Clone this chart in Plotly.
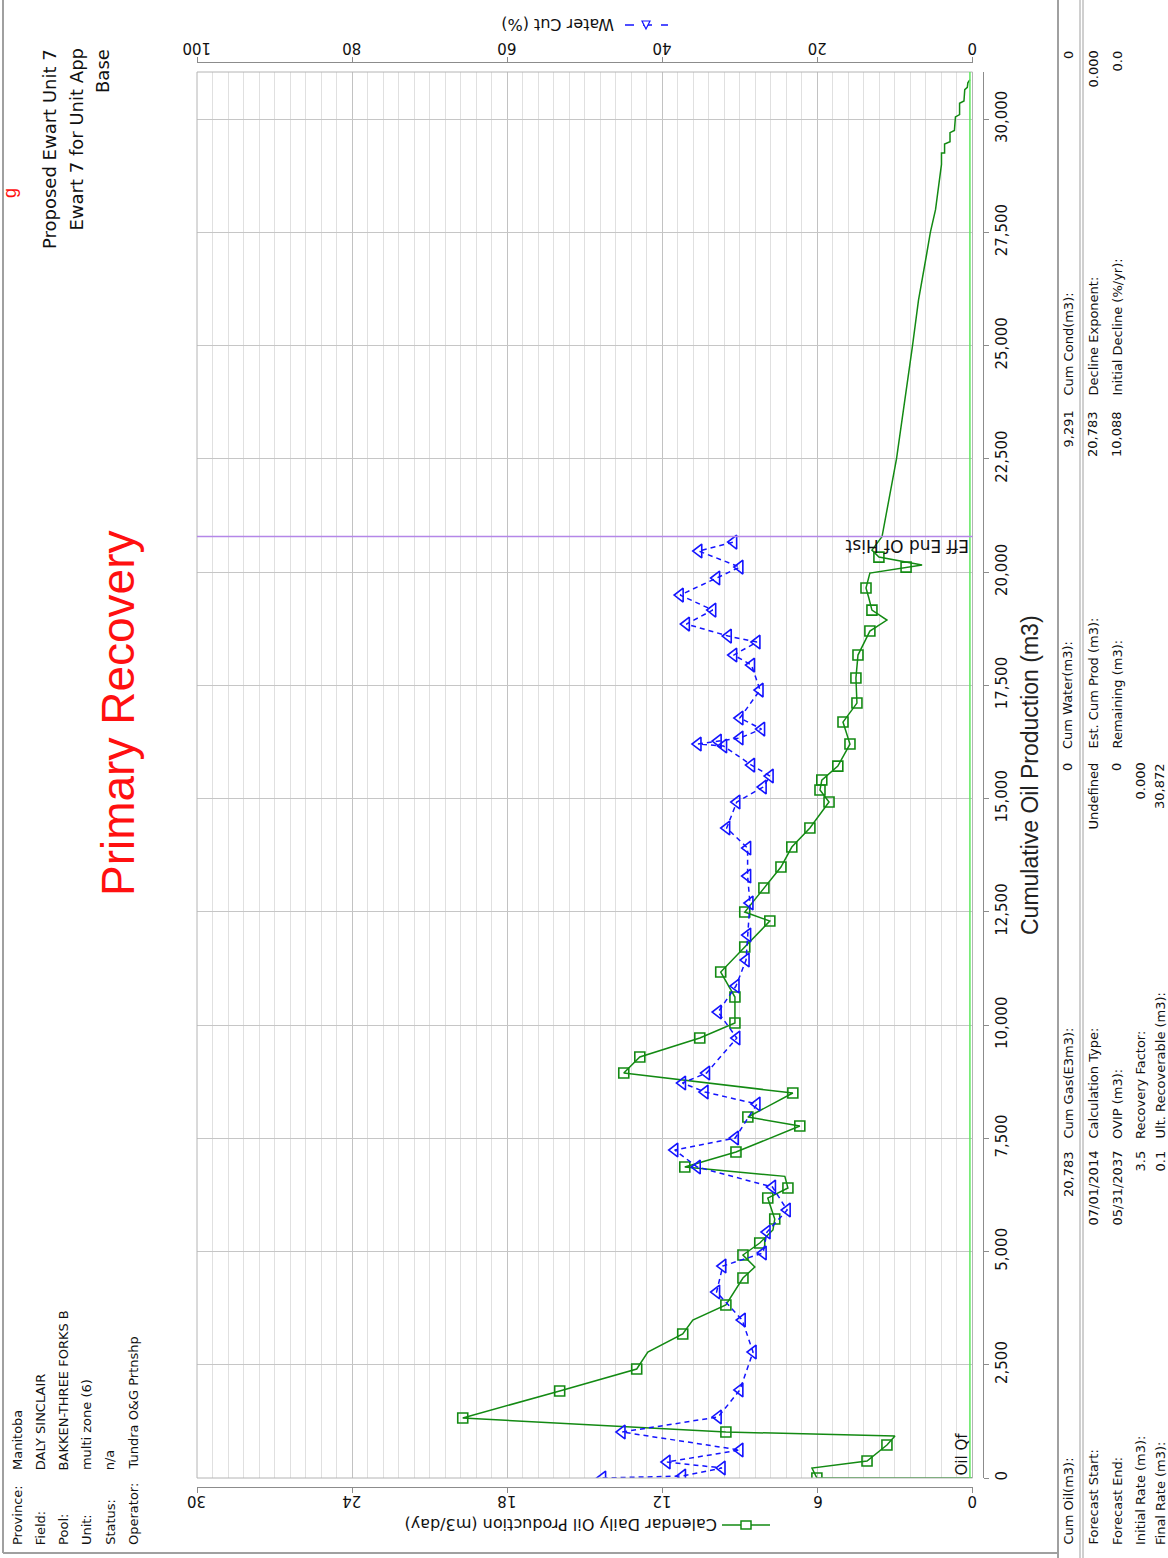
import plotly.graph_objects as go

W, H = 1168, 1558
SANS = "Liberation Sans"
UI = "DejaVu Sans"


def fx(px):
    return px / W


def fy(py):
    return 1 - py / H


# ---- production history: cumulative oil (m3) vs calendar daily oil rate (m3/day)
hist_cum = [0, 0, 221, 375, 728, 927, 1015, 1325, 1920, 2406, 2781, 3179, 3488, 3819,
            4415, 4658, 4923, 5188, 5475, 5717, 6181, 6402, 6660, 6865, 7196, 7770,
            7969, 8499, 8940, 9294, 9713, 10044, 10618, 11170, 11722, 12296, 12494,
            13024, 13488, 13929, 14349, 14923, 15188, 15408, 15717, 16203, 16689,
            17108, 17660, 18168, 18698, 18940, 19161, 19426, 19647, 19978, 20110,
            20154, 20331, 20486, 20783]
hist_rate = [0, 6.02, 6.21, 4.08, 3.31, 3.0, 9.54, 19.72, 15.97, 12.99, 12.56, 11.21,
             10.82, 9.54, 8.88, 8.42, 8.88, 8.23, 7.72, 7.65, 7.92, 7.14, 7.26, 11.13,
             9.15, 6.68, 8.69, 6.95, 13.49, 12.87, 10.55, 9.19, 9.19, 9.74, 8.81, 7.84,
             8.81, 8.07, 7.41, 6.99, 6.29, 5.55, 5.90, 5.83, 5.21, 4.74, 5.01, 4.47,
             4.51, 4.43, 3.97, 3.31, 3.89, 4.01, 4.12, 3.97, 2.57, 1.95, 3.62, 3.89, 3.5]
# points of the history that carry a monthly marker
hist_marker_idx = [1, 3, 4, 6, 7, 8, 9, 11, 13, 14, 16, 17, 19, 20, 21, 23, 24, 25, 26,
                   27, 28, 29, 30, 31, 32, 33, 34, 35, 36, 37, 38, 39, 40, 41, 42, 43,
                   44, 45, 46, 47, 48, 49, 50, 52, 54, 56, 58]

# ---- forecast from end of history to ultimate recovery
fc_cum = [20783, 22500, 25000, 26000, 27000, 27500, 28000, 28500, 29000, 29250, 29250,
          29450, 29500, 29700, 29750, 30050, 30100, 30350, 30400, 30650, 30700, 30800,
          30872]
fc_rate = [3.5, 2.94, 2.32, 2.09, 1.78, 1.63, 1.43, 1.32, 1.2, 1.2, 1.08, 1.08, 0.87,
           0.87, 0.7, 0.66, 0.5, 0.5, 0.33, 0.3, 0.2, 0.18, 0.1]

# ---- water cut (%)
wc_cum = [0, 44, 221, 353, 618, 1015, 1347, 1943, 2781, 3488, 4106, 4680, 4967, 5430,
          5916, 6424, 6865, 7241, 7506, 8256, 8521, 8720, 8940, 9713, 10287, 10861,
          11435, 11987, 12693, 13289, 13907, 14349, 14923, 15254, 15497, 15739, 16159,
          16203, 16269, 16336, 16534, 16777, 17395, 17947, 18168, 18455, 18587, 18852,
          19161, 19492, 19868, 20110, 20464, 20662]
wc_pct = [47.7, 37.4, 32.3, 39.4, 30.0, 45.2, 32.8, 30.0, 28.3, 29.7, 33.0, 32.2, 27.0,
          26.5, 23.9, 25.8, 35.5, 38.4, 30.6, 27.8, 34.5, 37.4, 34.3, 30.4, 32.8, 30.5,
          29.2, 29.0, 28.7, 29.0, 29.0, 31.7, 30.4, 27.0, 26.1, 28.5, 32.1, 35.4, 32.8,
          30.0, 27.2, 30.0, 27.4, 28.5, 30.8, 27.8, 31.5, 36.9, 33.5, 37.7, 33.0, 30.0,
          35.3, 30.8]

rate_ticks = [30, 24, 18, 12, 6, 0]
wc_ticks = [100, 80, 60, 40, 20, 0]
cum_ticks = [0, 2500, 5000, 7500, 10000, 12500, 15000, 17500, 20000, 22500, 25000,
             27500, 30000]
eff_end_cum = 20783
final_rate = 0.1

header_labels = ["Province:", "Field:", "Pool:", "Unit:", "Status:", "Operator:"]
header_values = ["Manitoba", "DALY SINCLAIR", "BAKKEN-THREE FORKS B", "multi zone (6)",
                 "n/a", "Tundra O&G Prtnshp"]
title_lines = ["Proposed Ewart Unit 7", "Ewart 7 for Unit App", "Base"]

summary_rows = [
    [("Cum Oil(m3):", "20,783"), ("Cum Gas(E3m3):", "0"), ("Cum Water(m3):", "9,291"),
     ("Cum Cond(m3):", "0")],
    [("Forecast Start:", "07/01/2014"), ("Calculation Type:", "Undefined"),
     ("Est. Cum Prod (m3):", "20,783"), ("Decline Exponent:", "0.000")],
    [("Forecast End:", "05/31/2037"), ("OVIP (m3):", "0"), ("Remaining (m3):", "10,088"),
     ("Initial Decline (%/yr):", "0.0")],
    [("Initial Rate (m3):", "3.5"), ("Recovery Factor:", "0.000")],
    [("Final Rate (m3):", "0.1"), ("Ult. Recoverable (m3):", "30,872")],
]

GREEN = "#138a13"
BLUE = "#1414ff"
INK = "#111111"

PX_L, PX_R = 197, 972.5
PY_T, PY_B = 72, 1478

fig = go.Figure()

fig.add_trace(go.Scatter(
    x=fc_rate, y=fc_cum, mode="lines", line=dict(color=GREEN, width=1.5),
    xaxis="x", yaxis="y", hoverinfo="skip"))

fig.add_trace(go.Scatter(
    x=hist_rate, y=hist_cum, mode="lines", line=dict(color=GREEN, width=1.5),
    xaxis="x", yaxis="y", name="Calendar Daily Oil Production"))

fig.add_trace(go.Scatter(
    x=[hist_rate[i] for i in hist_marker_idx], y=[hist_cum[i] for i in hist_marker_idx],
    mode="markers", marker=dict(symbol="square-open", size=10, color=GREEN,
                                line=dict(width=1.6, color=GREEN)),
    xaxis="x", yaxis="y", hoverinfo="skip"))

fig.add_trace(go.Scatter(
    x=wc_pct, y=wc_cum, mode="lines+markers",
    line=dict(color=BLUE, width=1.5, dash="5px,4px"),
    marker=dict(symbol="triangle-left-open", size=12, color=BLUE,
                line=dict(width=1.6, color=BLUE)),
    xaxis="x2", yaxis="y", name="Water Cut (%)"))

axis_line = "#8c8c8c"

fig.update_layout(
    width=W, height=H, margin=dict(l=0, r=0, t=0, b=0, autoexpand=False),
    paper_bgcolor="white", plot_bgcolor="white", showlegend=False,
    xaxis=dict(domain=[fx(PX_L), fx(PX_R)], range=[30, 0], anchor="free",
               position=fy(1487), side="bottom", showline=True, linecolor=axis_line,
               ticks="outside", ticklen=5, tickcolor=axis_line, tickvals=rate_ticks,
               showticklabels=False, showgrid=True, gridcolor="#c2c2c2",
               minor=dict(dtick=0.6, showgrid=True, gridcolor="#e0e0e0"),
               zeroline=False, automargin=False),
    xaxis2=dict(domain=[fx(PX_L), fx(PX_R)], range=[100, 0], overlaying="x",
                anchor="free", position=fy(62), side="top", showline=True,
                linecolor=axis_line, ticks="outside", ticklen=5, tickcolor=axis_line,
                tickvals=wc_ticks, showticklabels=False, showgrid=False,
                zeroline=False, automargin=False),
    yaxis=dict(domain=[fy(PY_B), fy(PY_T)], range=[0, 31040], anchor="free",
               position=fx(983), side="right", showline=True, linecolor=axis_line,
               ticks="outside", ticklen=5, tickcolor=axis_line, tickvals=cum_ticks,
               tickformat=",d", tickangle=-90,
               tickfont=dict(family=UI, size=15, color=INK), showgrid=True,
               gridcolor="#c6c6c6", zeroline=False, automargin=False),
)

shapes = []
# plot frame
shapes.append(dict(type="rect", xref="paper", yref="paper", x0=fx(PX_L), x1=fx(PX_R),
                   y0=fy(PY_B), y1=fy(PY_T), line=dict(color="#b4b4b4", width=1)))
# final-rate (Oil Qf) line
shapes.append(dict(type="line", xref="x", yref="y domain", x0=final_rate, x1=final_rate,
                   y0=0, y1=1, line=dict(color="#5ee85e", width=1.5)))
# effective end of history
shapes.append(dict(type="line", xref="x domain", yref="y", x0=0, x1=1, y0=eff_end_cum,
                   y1=eff_end_cum, line=dict(color="#b487e8", width=1.5)))
# page frame and summary table rules
frame = "#a0a0a0"
shapes.append(dict(type="line", xref="paper", yref="paper", x0=fx(3), x1=fx(3),
                   y0=fy(0), y1=fy(1553), line=dict(color=frame, width=2)))
shapes.append(dict(type="line", xref="paper", yref="paper", x0=fx(3), x1=fx(1058),
                   y0=fy(1553), y1=fy(1553), line=dict(color=frame, width=2)))
shapes.append(dict(type="line", xref="paper", yref="paper", x0=fx(1058), x1=fx(1058),
                   y0=0, y1=1, line=dict(color=frame, width=2)))
for xl in (1080, 1083):
    shapes.append(dict(type="line", xref="paper", yref="paper", x0=fx(xl), x1=fx(xl),
                       y0=0, y1=1, line=dict(color=frame, width=1)))

# legend glyph beside the oil-rate axis title
shapes.append(dict(type="line", xref="paper", yref="paper", x0=fx(722), x1=fx(770),
                   y0=fy(1525), y1=fy(1525), line=dict(color=GREEN, width=1.5)))
shapes.append(dict(type="rect", xref="paper", yref="paper", x0=fx(741), x1=fx(751),
                   y0=fy(1529), y1=fy(1521), line=dict(color=GREEN, width=1.5),
                   fillcolor="white"))
# legend glyph beside the water-cut axis title
shapes.append(dict(type="line", xref="paper", yref="paper", x0=fx(625), x1=fx(668),
                   y0=fy(25), y1=fy(25), line=dict(color=BLUE, width=1.5, dash="dash")))
shapes.append(dict(type="path", xref="paper", yref="paper",
                   path=f"M {fx(646)},{fy(29)} L {fx(642)},{fy(21)} L {fx(650)},{fy(21)} Z",
                   line=dict(color=BLUE, width=1.2), fillcolor="white"))
fig.update_layout(shapes=shapes)

ann = []


def text(t, x, y, size=13, color=INK, angle=-90, xa="center", ya="bottom", family=UI):
    ann.append(dict(text=t, x=fx(x), y=fy(y), xref="paper", yref="paper",
                    showarrow=False, textangle=angle, xanchor=xa, yanchor=ya,
                    font=dict(family=family, size=size, color=color), borderpad=0))


# upside-down tick labels of the oil-rate (bottom) and water-cut (top) axes
for v in rate_ticks:
    ann.append(dict(text=str(v), x=v, xref="x", y=fy(1501), yref="paper",
                    showarrow=False, textangle=180, xanchor="center", yanchor="middle",
                    font=dict(family=UI, size=15, color=INK), borderpad=0))
for v in wc_ticks:
    ann.append(dict(text=str(v), x=v, xref="x2", y=fy(48), yref="paper",
                    showarrow=False, textangle=180, xanchor="center", yanchor="middle",
                    font=dict(family=UI, size=15, color=INK), borderpad=0))

# well header block
for i, (lab, val) in enumerate(zip(header_labels, header_values)):
    xc = 17 + i * 23.2
    text(lab, xc, 1546, ya="bottom")
    text(val, xc, 1471, ya="bottom")

for i, line in enumerate(title_lines):
    text(line, 50 + i * 26.5, 48, size=18, ya="top")

# red caption fragment at the left edge
text("g", 10, 193, size=18, color="#ff1010", ya="middle", family=SANS)

text("Primary Recovery", 118, 713, size=46, color="#ff1010", ya="middle", family=SANS)

# axis titles
text("Calendar Daily Oil Production (m3/day)", 561, 1525, size=16, angle=180,
     ya="middle")
text("Water Cut (%)", 558, 25, size=16, angle=180, ya="middle")
text("Cumulative Oil Production (m3)", 1030, 775, size=23, color="#222222",
     ya="middle", family=SANS)

# chart markers
text("Oil Qf", 961, 1477, size=15, ya="bottom")
text("Eff End Of Hist", 970, 546, size=17, angle=180, xa="right", ya="middle")

# summary table
col_x = [1068, 1093, 1117, 1140, 1160]
lab_y = [1546, 1140, 750, 397]
val_y = [1150, 762, 410, 50]
for ci, row in enumerate(summary_rows):
    for si, (lab, val) in enumerate(row):
        text(lab, col_x[ci], lab_y[si], size=13, ya="bottom")
        text(val, col_x[ci], val_y[si], size=13, ya="top")

fig.update_layout(annotations=ann)

fig.write_html("out.html")
